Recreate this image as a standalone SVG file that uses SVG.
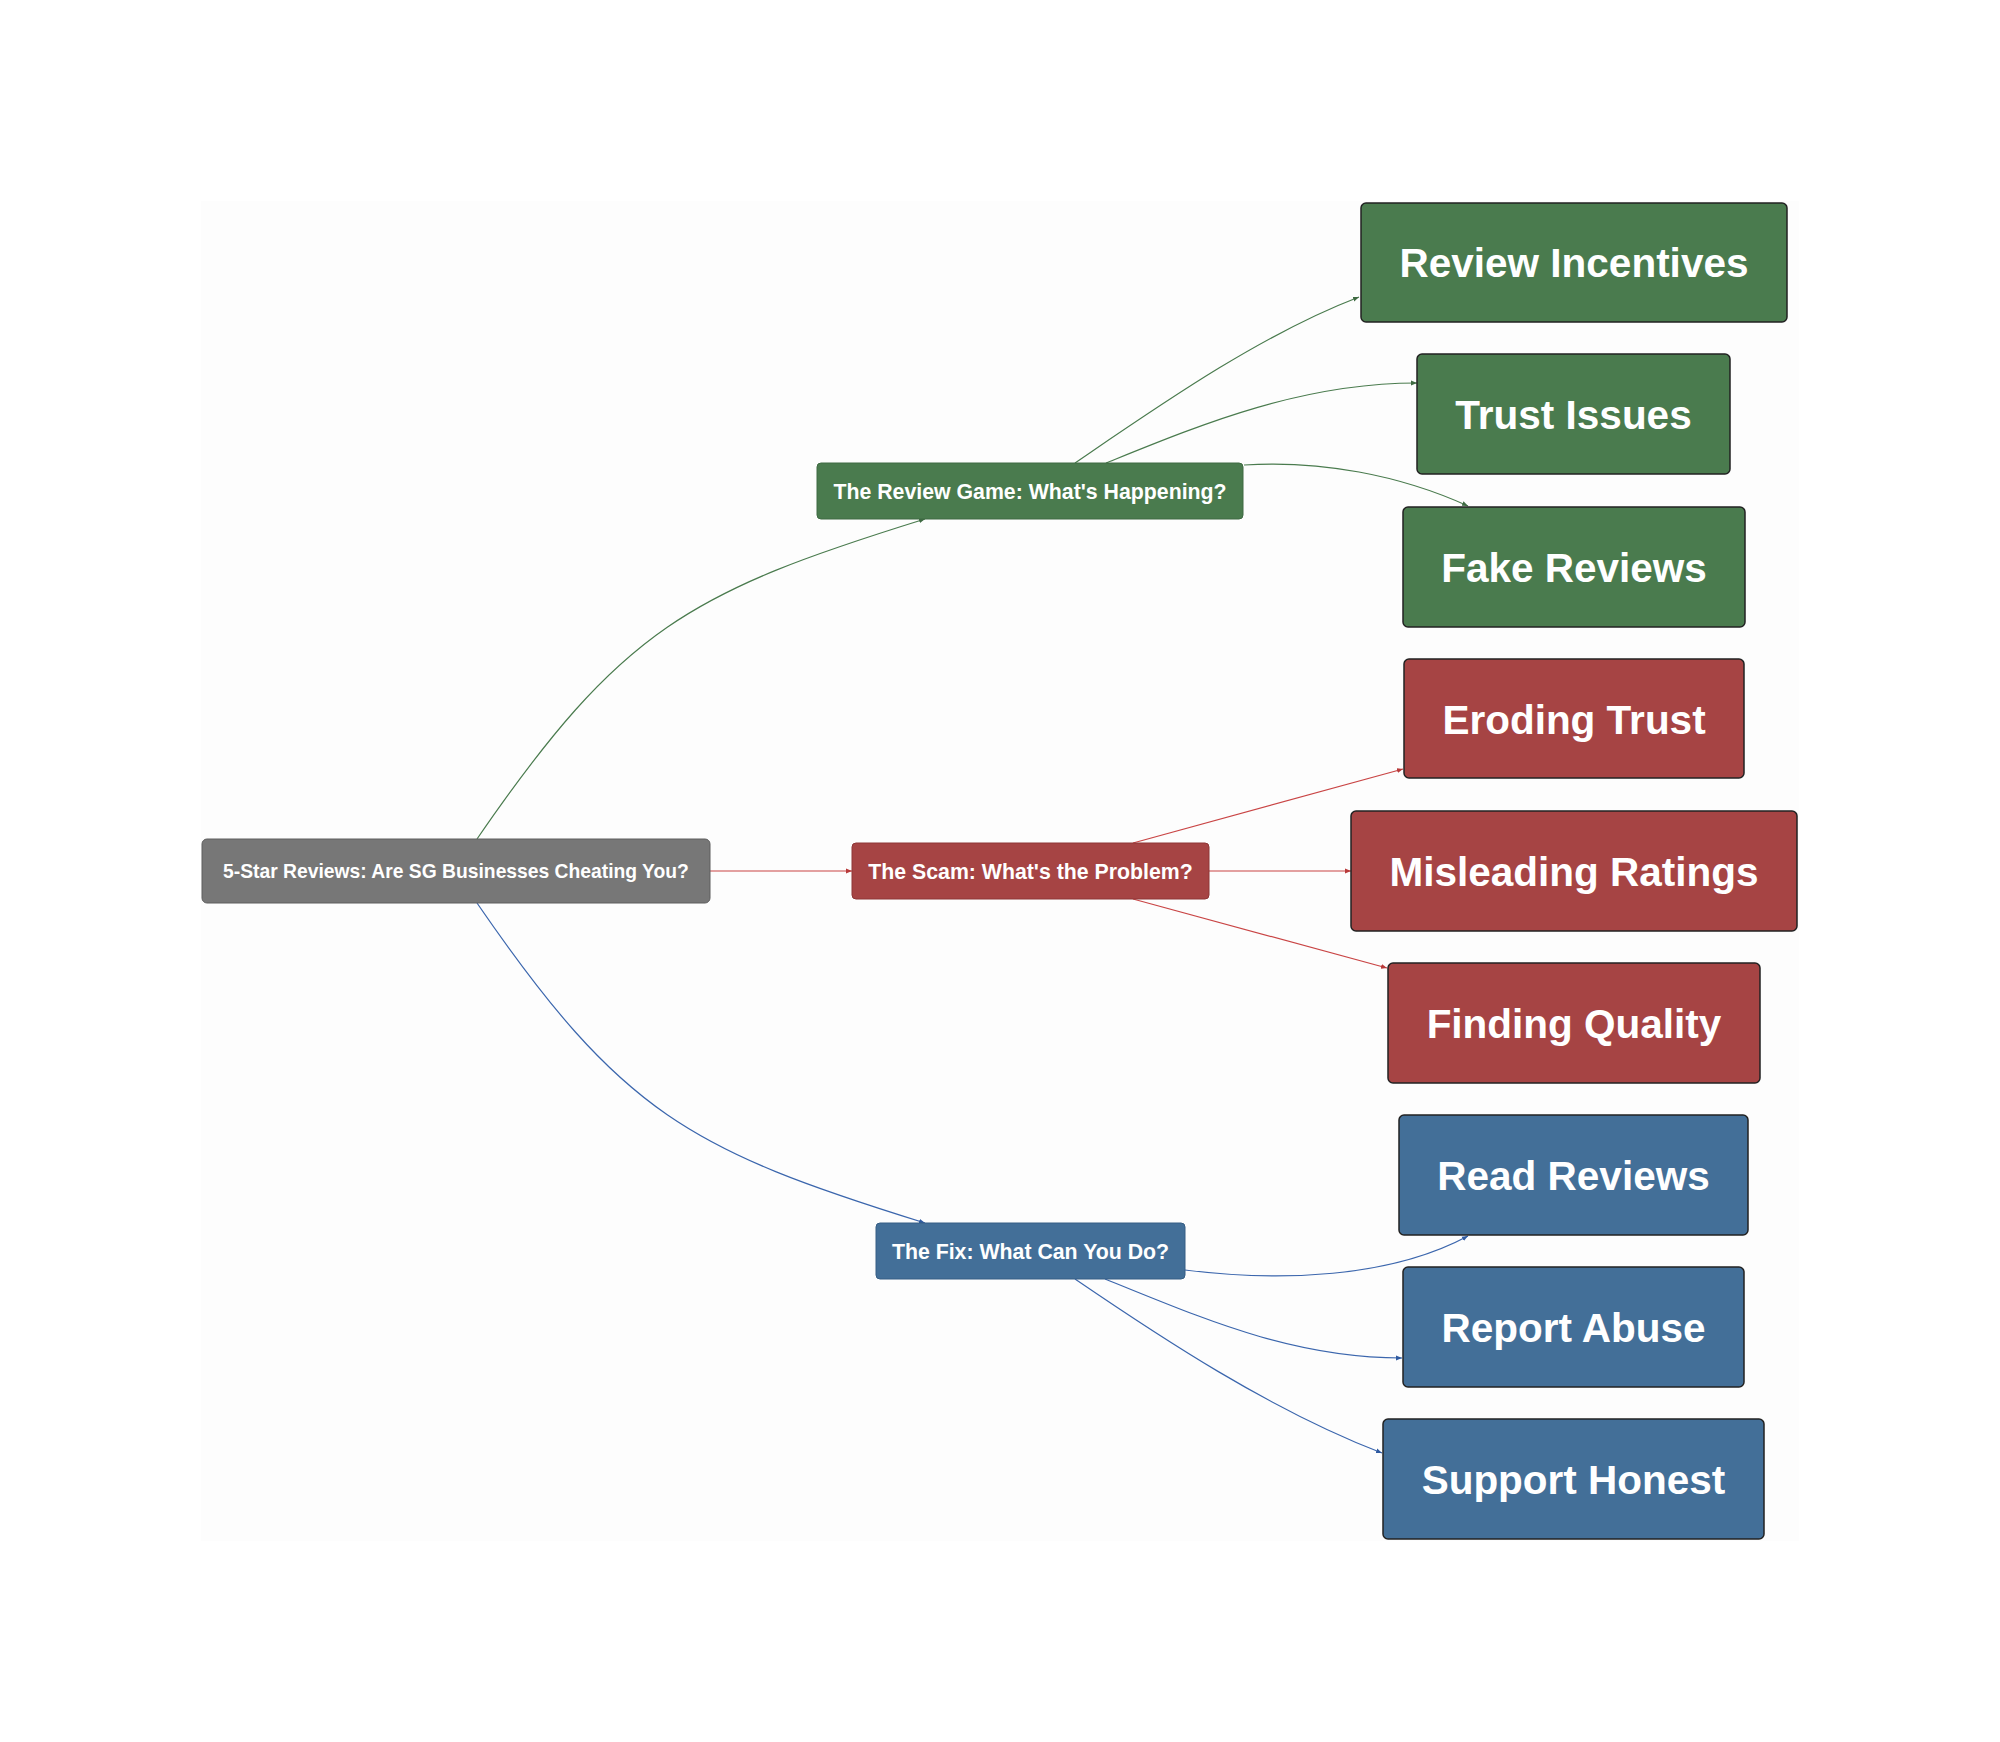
<svg xmlns="http://www.w3.org/2000/svg" width="2000" height="1742" viewBox="0 0 2000 1742">
<defs>
<style>
.txt{font-family:"Liberation Sans",Arial,sans-serif;font-weight:bold;fill:#ffffff;text-anchor:middle}
.leaf{font-size:40.5px}
.mid{font-size:21.3px}
.root{font-size:19.3px}
.g{fill:#4a7b4e}
.r{fill:#a64444}
.b{fill:#436f98}
.leafbox{stroke:#222222;stroke-width:1.5}
.midg{stroke:#3e6a42;stroke-width:1}
.midr{stroke:#8e3636;stroke-width:1}
.midb{stroke:#365e85;stroke-width:1}
.edge{fill:none;stroke-width:1.2}
.eg{stroke:#4a7b4e}
.er{stroke:#c94545}
.eb{stroke:#3b66ad}
</style>
<marker id="ag" viewBox="0 0 10 10" refX="10" refY="5" markerWidth="6" markerHeight="6" orient="auto" markerUnits="userSpaceOnUse"><path d="M0,1 L10,5 L0,9 z" fill="#3e6a42"/></marker>
<marker id="ar" viewBox="0 0 10 10" refX="10" refY="5" markerWidth="6" markerHeight="6" orient="auto" markerUnits="userSpaceOnUse"><path d="M0,1 L10,5 L0,9 z" fill="#b83a3a"/></marker>
<marker id="ab" viewBox="0 0 10 10" refX="10" refY="5" markerWidth="6" markerHeight="6" orient="auto" markerUnits="userSpaceOnUse"><path d="M0,1 L10,5 L0,9 z" fill="#2f5aa0"/></marker>
</defs>
<rect x="0" y="0" width="2000" height="1742" fill="#ffffff"/>
<rect x="201" y="201" width="1598" height="1340" fill="#fdfdfd"/>

<g id="connectors">
<path class="edge eg" d="M477,839 C622,628 690,592 925,519" marker-end="url(#ag)"/>
<path class="edge er" d="M710,871 L852,871" marker-end="url(#ar)"/>
<path class="edge eb" d="M477,903 C622,1114 690,1150 925,1223" marker-end="url(#ab)"/>
<path class="edge eg" d="M1075,463 C1160,405 1260,335 1359,297" marker-end="url(#ag)"/>
<path class="edge eg" d="M1106,463 C1200,425 1300,383 1417,383" marker-end="url(#ag)"/>
<path class="edge eg" d="M1244,465 C1320,460 1400,475 1468,506" marker-end="url(#ag)"/>
<path class="edge er" d="M1133,843 L1403,769" marker-end="url(#ar)"/>
<path class="edge er" d="M1209,871 L1351,871" marker-end="url(#ar)"/>
<path class="edge er" d="M1133,899 L1387,968" marker-end="url(#ar)"/>
<path class="edge eb" d="M1185,1270 C1280,1282 1390,1278 1468,1236" marker-end="url(#ab)"/>
<path class="edge eb" d="M1105,1279 C1200,1317 1290,1358 1402,1358" marker-end="url(#ab)"/>
<path class="edge eb" d="M1075,1279 C1160,1337 1270,1410 1382,1453" marker-end="url(#ab)"/>
</g>

<g id="root">
<rect x="202" y="839" width="508" height="64" rx="5" fill="#777777" stroke="#5e5e5e" stroke-width="1"/>
<text class="txt root" x="456" y="878">5-Star Reviews: Are SG Businesses Cheating You?</text>
</g>

<g id="review-game">
<rect class="g midg" x="817" y="463" width="426" height="56" rx="4"/>
<text class="txt mid" x="1030" y="498.5">The Review Game: What's Happening?</text>
</g>
<g id="scam">
<rect class="r midr" x="852" y="843" width="357" height="56" rx="4"/>
<text class="txt mid" x="1030.5" y="878.5">The Scam: What's the Problem?</text>
</g>
<g id="fix">
<rect class="b midb" x="876" y="1223" width="309" height="56" rx="4"/>
<text class="txt mid" x="1030.5" y="1258.5">The Fix: What Can You Do?</text>
</g>

<g id="review-incentives">
<rect class="g leafbox" x="1361" y="203" width="426" height="119" rx="5"/>
<text class="txt leaf" x="1574" y="277">Review Incentives</text>
</g>
<g id="trust-issues">
<rect class="g leafbox" x="1417" y="354" width="313" height="120" rx="5"/>
<text class="txt leaf" x="1573.5" y="429">Trust Issues</text>
</g>
<g id="fake-reviews">
<rect class="g leafbox" x="1403" y="507" width="342" height="120" rx="5"/>
<text class="txt leaf" x="1574" y="582">Fake Reviews</text>
</g>
<g id="eroding-trust">
<rect class="r leafbox" x="1404" y="659" width="340" height="119" rx="5"/>
<text class="txt leaf" x="1574" y="733.5">Eroding Trust</text>
</g>
<g id="misleading-ratings">
<rect class="r leafbox" x="1351" y="811" width="446" height="120" rx="5"/>
<text class="txt leaf" x="1574" y="886">Misleading Ratings</text>
</g>
<g id="finding-quality">
<rect class="r leafbox" x="1388" y="963" width="372" height="120" rx="5"/>
<text class="txt leaf" x="1574" y="1038">Finding Quality</text>
</g>
<g id="read-reviews">
<rect class="b leafbox" x="1399" y="1115" width="349" height="120" rx="5"/>
<text class="txt leaf" x="1573.5" y="1190">Read Reviews</text>
</g>
<g id="report-abuse">
<rect class="b leafbox" x="1403" y="1267" width="341" height="120" rx="5"/>
<text class="txt leaf" x="1573.5" y="1342">Report Abuse</text>
</g>
<g id="support-honest">
<rect class="b leafbox" x="1383" y="1419" width="381" height="120" rx="5"/>
<text class="txt leaf" x="1573.5" y="1494">Support Honest</text>
</g>
</svg>
